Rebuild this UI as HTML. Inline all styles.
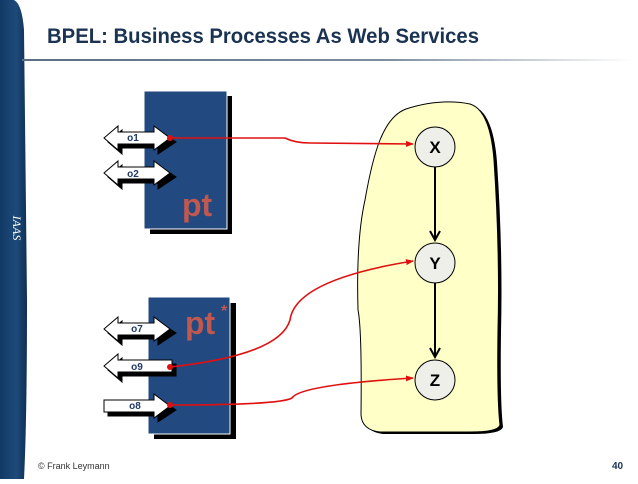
<!DOCTYPE html>
<html><head><meta charset="utf-8"><style>
html,body{margin:0;padding:0;background:#fff;}
body{width:638px;height:479px;overflow:hidden;position:relative;font-family:"Liberation Sans",sans-serif;}
</style></head><body>
<svg width="638" height="479" viewBox="0 0 638 479" xmlns="http://www.w3.org/2000/svg">
<defs>
<linearGradient id="bar" x1="0" x2="1" y1="0" y2="0">
<stop offset="0" stop-color="#123a66"/><stop offset="0.6" stop-color="#1d4a7a"/><stop offset="1" stop-color="#0f2f55"/>
</linearGradient>
<linearGradient id="rule" x1="0" x2="1" y1="0" y2="0">
<stop offset="0" stop-color="#5a6e84"/><stop offset="0.6" stop-color="#7d8ea0"/><stop offset="1" stop-color="#ffffff"/>
</linearGradient>
<marker id="ar" markerWidth="8" markerHeight="8" refX="7" refY="4" orient="auto" markerUnits="userSpaceOnUse">
<path d="M0,1 L8,4 L0,7 z" fill="#e01010"/></marker>
<marker id="ab" markerWidth="12" markerHeight="12" refX="10" refY="6" orient="auto" markerUnits="userSpaceOnUse">
<path d="M1,1 L10,6 L1,11" fill="none" stroke="#000" stroke-width="2"/></marker>
</defs>
<path d="M0,0 L14,0 Q22,4 24,30 L27,300 Q27,420 24,479 L0,479 z" fill="url(#bar)"/>
<text x="0" y="0" transform="translate(13,228) rotate(90)" font-size="12" font-style="italic" fill="#fff" font-family="Liberation Serif,serif" text-anchor="middle">IAAS</text>
<text x="47" y="43" font-size="21" font-weight="bold" fill="#1b3352" textLength="432" lengthAdjust="spacingAndGlyphs">BPEL: Business Processes As Web Services</text>
<rect x="22" y="59" width="610" height="2" fill="url(#rule)"/>
<path d="M406,109 Q440,98 470,104 Q490,110 494,160 Q500,250 498,330 Q497,400 500,425 Q498,432 470,432 L380,432 Q362,430 361,415 Q362,330 358,310 Q356,240 365,200 Q372,160 380,140 Q390,115 406,109 z" fill="#000" transform="translate(3,2)"/>
<path d="M406,109 Q440,98 470,104 Q490,110 494,160 Q500,250 498,330 Q497,400 500,425 Q498,432 470,432 L380,432 Q362,430 361,415 Q362,330 358,310 Q356,240 365,200 Q372,160 380,140 Q390,115 406,109 z" fill="#ffffc8" stroke="#000" stroke-width="1"/>
<line x1="435" y1="167" x2="435" y2="240" stroke="#000" stroke-width="2" marker-end="url(#ab)"/>
<line x1="435" y1="283" x2="435" y2="357" stroke="#000" stroke-width="2" marker-end="url(#ab)"/>
<g font-size="17" font-weight="bold" text-anchor="middle" fill="#000">
<circle cx="435" cy="147" r="20" fill="#efefea" stroke="#000"/><text x="435" y="153">X</text>
<circle cx="435" cy="263" r="20" fill="#efefea" stroke="#000"/><text x="435" y="269">Y</text>
<circle cx="435" cy="380" r="20" fill="#efefea" stroke="#000"/><text x="435" y="386">Z</text>
</g>
<rect x="150" y="96" width="82" height="138" fill="#000"/>
<rect x="144" y="91" width="83" height="138" fill="#224a80" stroke="#fff" stroke-width="1"/>
<text x="182" y="216" font-size="32" font-weight="bold" fill="#c05850">pt</text>
<rect x="154" y="303" width="82" height="136" fill="#000"/>
<rect x="148" y="297" width="82" height="137" fill="#224a80" stroke="#fff" stroke-width="1"/>
<text x="185" y="334" font-size="32" font-weight="bold" fill="#c05850">pt</text>
<text x="221" y="316" font-size="16" font-weight="bold" fill="#c05850">*</text>
<g stroke="#000" stroke-width="1">
<path d="M108,142 L122,130 L122,136 L158,136 L158,130 L176,142 L158,154 L158,148 L122,148 L122,154 z" fill="#000"/>
<path d="M104,138 L118,126 L118,132 L154,132 L154,126 L170,138 L154,150 L154,144 L118,144 L118,150 z" fill="#fff"/>
<path d="M108,177 L122,165 L122,171 L158,171 L158,165 L176,177 L158,189 L158,183 L122,183 L122,189 z" fill="#000"/>
<path d="M104,173 L118,161 L118,167 L154,167 L154,161 L170,173 L154,185 L154,179 L118,179 L118,185 z" fill="#fff"/>
<path d="M108,333 L122,321 L122,327 L158,327 L158,321 L176,333 L158,345 L158,339 L122,339 L122,345 z" fill="#000"/>
<path d="M104,329 L118,317 L118,323 L154,323 L154,317 L170,329 L154,341 L154,335 L118,335 L118,341 z" fill="#fff"/>
<path d="M108,370 L122,358 L122,364 L176,364 L176,376 L122,376 L122,382 z" fill="#000"/>
<path d="M104,366 L118,354 L118,360 L172,360 L172,372 L118,372 L118,378 z" fill="#fff"/>
<path d="M108,404 L158,404 L158,398 L176,410 L158,422 L158,416 L108,416 z" fill="#000"/>
<path d="M104,400 L154,400 L154,394 L170,406 L154,418 L154,412 L104,412 z" fill="#fff"/>
</g>
<g font-size="10" font-weight="bold" fill="#1f3a66" text-anchor="middle">
<text x="133" y="141">o1</text><text x="133" y="177">o2</text>
<text x="137" y="332">o7</text><text x="137" y="370">o9</text><text x="135" y="409">o8</text>
</g>
<g fill="none" stroke="#e01010" stroke-width="1.6">
<path d="M170,138 L285,138 Q295,143 310,143 L413,144" marker-end="url(#ar)"/>
<path d="M170,367 Q280,355 290,320 Q295,280 413,261" marker-end="url(#ar)"/>
<path d="M170,405 Q280,405 292,398 Q300,385 413,378" marker-end="url(#ar)"/>
</g>
<circle cx="170" cy="138" r="3" fill="#e01010"/>
<circle cx="170" cy="367" r="3" fill="#e01010"/>
<circle cx="170" cy="405" r="3" fill="#e01010"/>
<text x="38" y="469" font-size="9" fill="#333">© Frank Leymann</text>
<text x="612" y="469" font-size="10" font-weight="bold" fill="#1b3352">40</text>
</svg>
</body></html>
